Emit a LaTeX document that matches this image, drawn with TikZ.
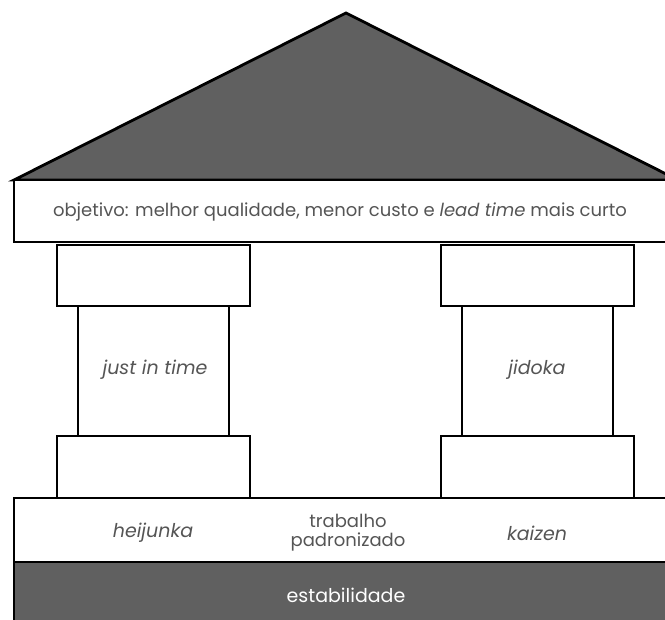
\documentclass[tikz,border=0pt]{standalone}
\usepackage{fontspec}
\setmainfont{Poppins}
\definecolor{roofgray}{HTML}{606060}
\definecolor{txtgray}{HTML}{555555}
\begin{document}
\begin{tikzpicture}[x=1pt,y=-1pt,
  part/.style={draw=black,line width=2.8pt,fill=white,inner sep=0pt},
  darkpart/.style={draw=black,line width=2.8pt,fill=roofgray,inner sep=0pt},
  lbl/.style={text=txtgray,font=\fontsize{19}{20}\selectfont,align=center,inner sep=0pt}]
\useasboundingbox (0,0) rectangle (665,620);
\clip (0,0) rectangle (665,620);
% roof
\coordinate (rl) at (14,180);
\coordinate (ra) at (346,13);
\coordinate (rr) at (678,180);
\draw[line width=2.8pt,fill=roofgray,line join=miter] (rl) -- (ra) -- (rr) -- cycle;
% objective beam
\node[part,minimum width=664pt,minimum height=62pt] (beam) at (346,211) {};
\node[lbl,font=\fontsize{18}{19}\selectfont] (objtxt) at (340,212) {objetivo: melhor qualidade, menor custo e \textit{lead time} mais curto};
% left pillar
\node[part,minimum width=193pt,minimum height=61pt] (lcap) at (153.5,275.5) {};
\node[part,minimum width=151pt,minimum height=130pt] (lshaft) at (153.5,371) {};
\node[part,minimum width=193pt,minimum height=62pt] (lbase) at (153.5,467) {};
\node[lbl] (jit) at (155,370) {\textit{just in time}};
% right pillar
\node[part,minimum width=193pt,minimum height=61pt] (rcap) at (537.5,275.5) {};
\node[part,minimum width=151pt,minimum height=130pt] (rshaft) at (537.5,371) {};
\node[part,minimum width=193pt,minimum height=62pt] (rbase) at (537.5,467) {};
\node[lbl] (jid) at (537,370) {\textit{jidoka}};
% foundation
\node[part,minimum width=664pt,minimum height=64pt] (found) at (346,530) {};
\node[lbl] (hei) at (153,533) {\textit{heijunka}};
\node[lbl,font=\fontsize{18}{19}\selectfont] (trab) at (348,533) {trabalho\\padronizado};
\node[lbl] (kai) at (537,533) {\textit{kaizen}};
% stability
\node[darkpart,minimum width=664pt,minimum height=80pt] (stab) at (346,602) {};
\node[lbl,text=white] (stabtxt) at (346,595) {estabilidade};
\end{tikzpicture}
\end{document}
